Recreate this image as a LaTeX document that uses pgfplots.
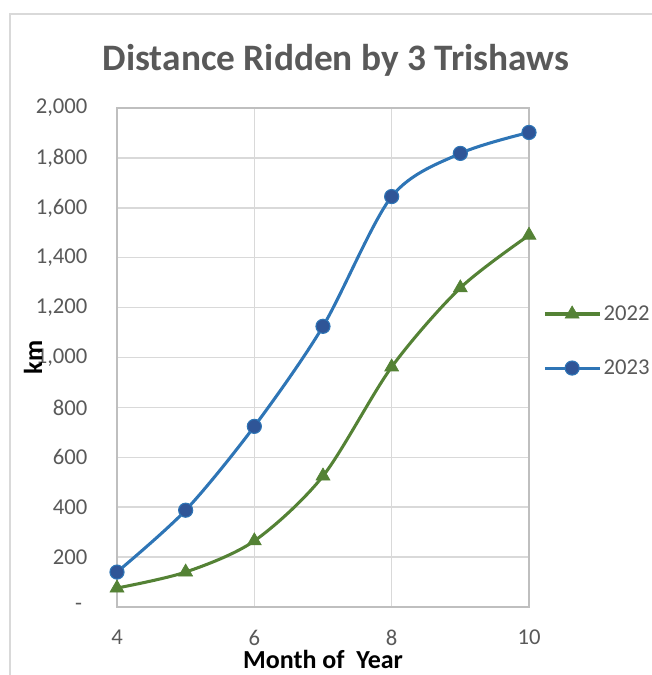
\documentclass[border=0pt]{standalone}
\usepackage{pgfplots}
\pgfplotsset{compat=1.18}
\usepackage{fontspec}
\setmainfont{Carlito}
\definecolor{txtgray}{HTML}{595959}
\definecolor{gridgray}{HTML}{D9D9D9}
\definecolor{axgray}{HTML}{BFBFBF}
\definecolor{blueline}{HTML}{2E75B6}
\definecolor{bluemark}{HTML}{2F5597}
\definecolor{greenline}{HTML}{548235}
\begin{document}
\begin{tikzpicture}
\useasboundingbox (-87.75pt,-51pt) rectangle (401.25pt,455.25pt);
\draw[gridgray, line width=1.2pt] (-80.25pt,-60pt) -- (-80.25pt,444.75pt) -- (410pt,444.75pt);
\begin{axis}[
  at={(0,0)}, anchor=south west,
  scale only axis,
  width=309pt, height=374.25pt,
  xmin=4, xmax=10, ymin=0, ymax=2000,
  xtick={4,6,8,10},
  ytick={0,200,...,2000},
  grid=major,
  major grid style={gridgray, line width=1.1pt},
  axis line style={axgray, line width=1.1pt},
  major tick length=0pt,
  /pgf/number format/assume math mode=true,
  /pgf/number format/1000 sep={,},
  yticklabel={\ifdim\tick pt<1pt -\hspace*{4pt}\else\pgfmathprintnumber{\tick}\fi},
  tick label style={font=\fontsize{17}{20}\selectfont, text=txtgray},
  yticklabel style={inner sep=0pt, xshift=-22pt},
  xticklabel style={inner sep=0pt, yshift=-17pt},
  xlabel={\textbf{Month of\ \ Year}},
  ylabel={\textbf{km}},
  label style={font=\fontsize{19.5}{22}\selectfont, text=black},
  xlabel style={at={(rel axis cs:0.5,0)}, anchor=center, yshift=-39.5pt},
  ylabel style={at={(rel axis cs:0,0.5)}, anchor=center, yshift=63pt},
  legend style={at={(rel axis cs:1,0.533)}, anchor=west, xshift=10.5pt,
    draw=none, fill=none, font=\fontsize{17}{20}\selectfont, text=txtgray,
    row sep=24pt, inner sep=0pt, cells={anchor=west}},
  legend image code/.code={\draw[mark repeat=2,mark phase=2] plot coordinates {(0pt,0pt) (20.5pt,0pt) (41pt,0pt)};},
  legend cell align=left,
]
\addplot[greenline, line width=2.3pt, smooth, tension=0.5, mark=triangle*, mark size=6pt, mark options={fill=greenline, draw=greenline, line width=0.5pt}]
  coordinates {(4,76) (5,140) (6,265) (7,525) (8,962) (9,1279) (10,1490)};
\addlegendentry{2022}
\addplot[blueline, line width=2.3pt, smooth, tension=0.5, mark=*, mark size=5.3pt, mark options={fill=bluemark, draw=blueline, line width=0.8pt}]
  coordinates {(4,140) (5,388) (6,724) (7,1125) (8,1645) (9,1818) (10,1902)};
\addlegendentry{2023}
\end{axis}
\node[text=txtgray, font=\fontsize{28}{32}\selectfont\bfseries] at (164.25pt,410.25pt) {Distance Ridden by 3 Trishaws};
\end{tikzpicture}
\end{document}
